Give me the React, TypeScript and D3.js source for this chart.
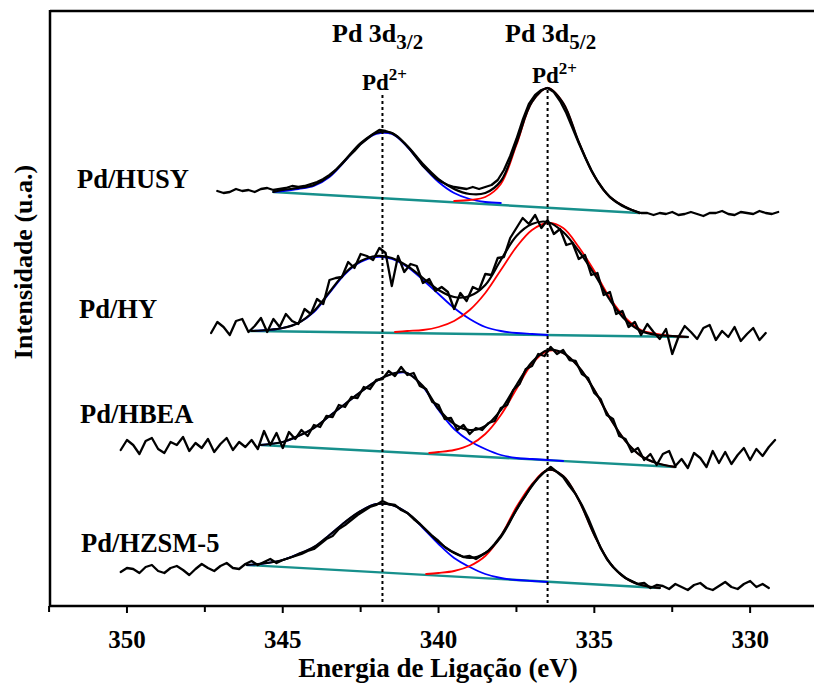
import React from 'react';
import * as d3 from 'd3';

const W = 814;
const H = 684;
const FONT = "'Liberation Serif', 'Times New Roman', 'DejaVu Serif', serif";

// binding energy axis (eV)
const xTicks = [350, 345, 340, 335, 330];
const xMinorTicks = [352.5, 347.5, 342.5, 337.5, 332.5];

// Pd 3d3/2 and Pd 3d5/2 reference positions (eV) and the top of their guide lines (a.u.)
const peakLines = [341.8, 336.5];
const peakLineTop = [511, 516];

const sampleNames = ['Pd/HUSY', 'Pd/HY', 'Pd/HBEA', 'Pd/HZSM-5'];

// raw spectra: first energy + intensities every 0.2 eV (stacked, a.u.)
const STEP = 0.2;
const husyStart = 347.1;
const husyData = [
  415, 413, 414, 417, 415, 416, 414, 417, 418, 416,
  417, 418, 420, 419, 420, 422, 424, 427, 431, 436,
  442, 449, 455, 462, 467, 472, 476, 475, 473, 469,
  463, 456, 448, 440, 434, 428, 424, 421, 419, 418,
  417, 419, 417, 419, 421, 426, 436, 450, 467, 486,
  502, 511, 516, 518, 514, 505, 493, 478, 463, 449,
  436, 425, 416, 409, 404, 400, 397, 395, 393, 393,
  391, 393, 392, 394, 391, 392, 394, 392, 390, 393,
  393, 395, 392, 391, 394, 393, 392, 395, 393, 392,
  394,
];
const hyStart = 347.3;
const hyData = [
  273, 284, 279, 271, 285, 287, 274, 280, 288, 274,
  287, 279, 292, 285, 282, 297, 292, 307, 302, 326,
  328, 329, 344, 338, 352, 350, 346, 358, 353, 320,
  350, 334, 342, 340, 323, 327, 315, 319, 314, 297,
  313, 305, 319, 316, 332, 331, 348, 349, 368, 378,
  388, 382, 391, 378, 386, 372, 377, 361, 363, 347,
  351, 331, 333, 311, 314, 292, 295, 279, 284, 271,
  282, 274, 267, 277, 252, 269, 280, 274, 267, 278,
  281, 266, 275, 269, 279, 265, 272, 278, 266, 273,
];
const hbeaStart = 350.2;
const hbeaData = [
  156, 166, 161, 152, 165, 168, 157, 153, 164, 161,
  169, 155, 163, 158, 167, 154, 162, 168, 156, 164,
  159, 166, 157, 175, 161, 173, 158, 174, 167, 176,
  170, 181, 179, 190, 189, 201, 199, 209, 208, 219,
  217, 226, 227, 235, 230, 239, 231, 233, 220, 217,
  204, 201, 187, 188, 176, 181, 172, 178, 176, 183,
  185, 198, 201, 216, 222, 237, 240, 252, 250, 259,
  252, 256, 246, 245, 232, 228, 213, 207, 191, 187,
  170, 167, 154, 158, 146, 152, 141, 152, 155, 140,
  147, 138, 153, 148, 139, 155, 143, 154, 142, 151,
  158, 146, 157, 150, 159, 166,
];
const hzsmStart = 350.2;
const hzsmData = [
  34, 38, 37, 33, 39, 41, 35, 33, 38, 40,
  36, 31, 37, 42, 38, 35, 40, 43, 38, 37,
  42, 45, 41, 44, 47, 43, 46, 48, 50, 52,
  55, 57, 62, 67, 70, 77, 81, 86, 91, 95,
  99, 101, 105, 102, 101, 96, 93, 87, 82, 76,
  70, 65, 59, 55, 52, 49, 50, 47, 51, 55,
  62, 70, 80, 91, 102, 111, 121, 128, 134, 139,
  134, 129, 120, 112, 101, 88, 73, 58, 47, 39,
  33, 28, 25, 22, 23, 18, 21, 20, 17, 22,
  19, 16, 21, 23, 18, 16, 20, 24, 19, 17,
  22, 25, 19, 22, 18,
];

// fitted curves [eV, a.u.]
const husyEnv: [number, number][] = [
  [345.3, 414], [345, 416], [344.5, 418], [344, 421], [343.5, 430], [343, 446], [342.5, 463],
  [342, 473], [341.5, 473], [341, 460], [340.5, 442], [340, 427], [339.5, 417], [339, 412],
  [338.5, 413], [338, 425], [337.5, 463], [337, 504], [336.5, 518], [336, 503], [335.5, 464],
  [335, 430], [334.5, 409], [334, 399], [333.55, 393],
];
const husyBlue: [number, number][] = [
  [345.3, 414], [345, 415], [344.5, 417], [344, 420], [343.5, 429], [343, 445], [342.5, 462],
  [342, 472], [341.5, 472], [341, 459], [340.5, 440], [340, 424], [339.5, 413], [339, 407],
  [338.5, 404], [338, 403],
];
const husyRed: [number, number][] = [
  [339.5, 405], [339, 406], [338.5, 409], [338, 422], [337.5, 461], [337, 504],
  [336.5, 518], [336, 503], [335.5, 464], [335, 430], [334.5, 409], [334, 399], [333.55, 393],
];
const husyBase: [number, number][] = [[345.3, 414], [333.55, 393]];

const hyEnv: [number, number][] = [
  [346, 275], [345.5, 276], [345, 278], [344.5, 283], [344, 295], [343.5, 314], [343, 333],
  [342.5, 345], [342, 350], [341.5, 348], [341, 340], [340.5, 328], [340, 316], [339.5, 309],
  [339, 310], [338.5, 321], [338, 346], [337.5, 370], [337, 382], [336.5, 384], [336, 374],
  [335.5, 355], [335, 332], [334.5, 306], [334, 286], [333.5, 275], [333, 271], [332.5, 270],
  [332, 269],
];
const hyBlue: [number, number][] = [
  [346, 275], [345.5, 276], [345, 278], [344.5, 283], [344, 294], [343.5, 313], [343, 332],
  [342.5, 344], [342, 349], [341.5, 347], [341, 339], [340.5, 326], [340, 312], [339.5, 298],
  [339, 287], [338.5, 279], [338, 275], [337.5, 273], [337, 272], [336.5, 271],
];
const hyRed: [number, number][] = [
  [341.4, 274], [341, 275], [340.5, 276], [340, 279], [339.5, 285], [339, 296], [338.5, 313],
  [338, 336], [337.5, 359], [337, 376], [336.5, 383], [336, 378], [335.5, 359], [335, 335],
  [334.5, 308], [334, 288], [333.5, 276], [333, 272], [332.5, 270], [332, 269],
];
const hyBase: [number, number][] = [[346.06, 275], [332, 269]];

const hbeaEnv: [number, number][] = [
  [345.7, 161], [345, 164], [344.5, 170], [344, 178], [343.5, 190], [343, 202], [342.5, 214],
  [342, 225], [341.5, 232], [341.1, 234], [340.5, 220], [340, 197], [339.5, 182], [339, 176],
  [338.5, 180], [338, 196], [337.5, 221], [337, 244], [336.5, 256], [336, 253], [335.5, 239],
  [335, 216], [334.5, 188], [334, 165], [333.5, 150], [333, 143], [332.4, 139],
];
const hbeaBlue: [number, number][] = [
  [345.7, 161], [345, 164], [344.5, 170], [344, 178], [343.5, 190], [343, 202], [342.5, 214],
  [342, 225], [341.5, 232], [341, 233], [340.5, 219], [340, 196], [339.5, 177], [339, 165],
  [338.5, 157], [338, 151], [337.5, 148], [337, 147], [336.5, 146], [336, 145],
];
const hbeaRed: [number, number][] = [
  [340.3, 153], [340, 154], [339.5, 156], [339, 161], [338.5, 172], [338, 191], [337.5, 217],
  [337, 242], [336.5, 255], [336, 253], [335.5, 239], [335, 216], [334.5, 188], [334, 165],
  [333.5, 150], [333, 143], [332.4, 139],
];
const hbeaBase: [number, number][] = [[345.7, 161], [332.4, 139]];

const hzsmEnv: [number, number][] = [
  [346.15, 41], [345.5, 43], [345, 46], [344.5, 52], [344, 59], [343.5, 71], [343, 84],
  [342.5, 95], [342, 102], [341.5, 101], [341, 93], [340.5, 79], [340, 64], [339.5, 53],
  [339, 48], [338.5, 53], [338, 69], [337.5, 96], [337, 120], [336.5, 136], [336, 130],
  [335.5, 106], [335, 71], [334.5, 43], [334, 28], [333.5, 21], [332.9, 18],
];
const hzsmBlue: [number, number][] = [
  [346.15, 41], [345.5, 43], [345, 46], [344.5, 52], [344, 59], [343.5, 71], [343, 84],
  [342.5, 95], [342, 102], [341.5, 101], [341, 93], [340.5, 78], [340, 62], [339.5, 48],
  [339, 39], [338.5, 32], [338, 28], [337.5, 26], [337, 25], [336.5, 24],
];
const hzsmRed: [number, number][] = [
  [340.4, 32], [340, 33], [339.5, 35], [339, 40], [338.5, 50], [338, 70], [337.5, 99],
  [337, 122], [336.5, 136], [336, 130], [335.5, 106], [335, 71], [334.5, 43], [334, 28],
  [333.5, 21], [332.9, 18],
];
const hzsmBase: [number, number][] = [[346.15, 41], [332.9, 18]];

// label placement (pixels)
const labelPos = [[77, 188], [79, 318], [80, 423], [81, 552]];

const toSeries = (start: number, vals: number[]): [number, number][] =>
  vals.map((v, i) => [start - i * STEP, v]);

const spectra = [
  { raw: toSeries(husyStart, husyData), env: husyEnv, blue: husyBlue, red: husyRed, base: husyBase },
  { raw: toSeries(hyStart, hyData), env: hyEnv, blue: hyBlue, red: hyRed, base: hyBase },
  { raw: toSeries(hbeaStart, hbeaData), env: hbeaEnv, blue: hbeaBlue, red: hbeaRed, base: hbeaBase },
  { raw: toSeries(hzsmStart, hzsmData), env: hzsmEnv, blue: hzsmBlue, red: hzsmRed, base: hzsmBase },
];

export default function App() {
  const left = 50, right = 814, top = 11, bottom = 606;
  const x = d3.scaleLinear().domain([352.47, 327.95]).range([left, right]);
  const y = d3.scaleLinear().domain([0, 595]).range([bottom, top]);

  const rawLine = d3.line<[number, number]>().x(d => x(d[0])).y(d => y(d[1]));
  const fitLine = d3.line<[number, number]>()
    .x(d => x(d[0])).y(d => y(d[1]))
    .curve(d3.curveCatmullRom.alpha(0.5));

  const txt = { fontFamily: FONT, fontWeight: 'bold' as const };

  return (
    <svg width={W} height={H} style={{ position: 'absolute', left: 0, top: 0, background: '#fff', fontFamily: FONT }}>
      {/* spectra */}
      {spectra.map((s, i) => (
        <g key={i} fill="none" strokeLinejoin="round" strokeLinecap="round">
          <path d={rawLine(s.base) || ''} stroke="#17908c" strokeWidth={2.4} />
          <path d={fitLine(s.blue) || ''} stroke="#0000ff" strokeWidth={1.8} />
          <path d={fitLine(s.red) || ''} stroke="#ff0000" strokeWidth={1.8} />
          <path d={fitLine(s.env) || ''} stroke="#000" strokeWidth={2.2} />
          <path d={rawLine(s.raw) || ''} stroke="#000" strokeWidth={2.3} />
        </g>
      ))}

      {/* peak guide lines */}
      {peakLines.map((e, i) => (
        <line key={i} x1={x(e)} x2={x(e)} y1={y(peakLineTop[i])} y2={bottom}
          stroke="#000" strokeWidth={2} strokeDasharray="3,3" />
      ))}

      {/* frame */}
      <line x1={left} x2={right} y1={top} y2={top} stroke="#000" strokeWidth={2.5} />
      <line x1={left} x2={left} y1={top - 1} y2={bottom + 1} stroke="#000" strokeWidth={2.5} />
      <line x1={left - 1} x2={right} y1={bottom} y2={bottom} stroke="#000" strokeWidth={2.5} />

      {/* x ticks */}
      {xTicks.map(t => (
        <g key={t}>
          <line x1={x(t)} x2={x(t)} y1={bottom} y2={bottom + 7} stroke="#000" strokeWidth={2} />
          <text x={x(t)} y={648} textAnchor="middle" fontSize={25} style={txt}>{t}</text>
        </g>
      ))}
      {xMinorTicks.map(t => (
        <line key={t} x1={x(t)} x2={x(t)} y1={bottom} y2={bottom + 6} stroke="#000" strokeWidth={2} />
      ))}

      {/* axis titles */}
      <text x={438} y={677} textAnchor="middle" fontSize={27} style={txt}>Energia de Ligação (eV)</text>
      <text transform="translate(32,262) rotate(-90)" textAnchor="middle" fontSize={26} style={txt}>Intensidade (u.a.)</text>

      {/* sample labels */}
      {sampleNames.map((n, i) => (
        <text key={n} x={labelPos[i][0]} y={labelPos[i][1]} fontSize={26.5} style={txt}>{n}</text>
      ))}

      {/* peak labels */}
      <text x={332} y={42} fontSize={26} style={txt}>Pd 3d<tspan fontSize={21} dy={7}>3/2</tspan></text>
      <text x={505} y={42} fontSize={26} style={txt}>Pd 3d<tspan fontSize={21} dy={7}>5/2</tspan></text>
      <text x={362} y={90} fontSize={23} style={txt}>Pd<tspan fontSize={17} dy={-10}>2+</tspan></text>
      <text x={532} y={83} fontSize={23} style={txt}>Pd<tspan fontSize={17} dy={-9}>2+</tspan></text>
    </svg>
  );
}
